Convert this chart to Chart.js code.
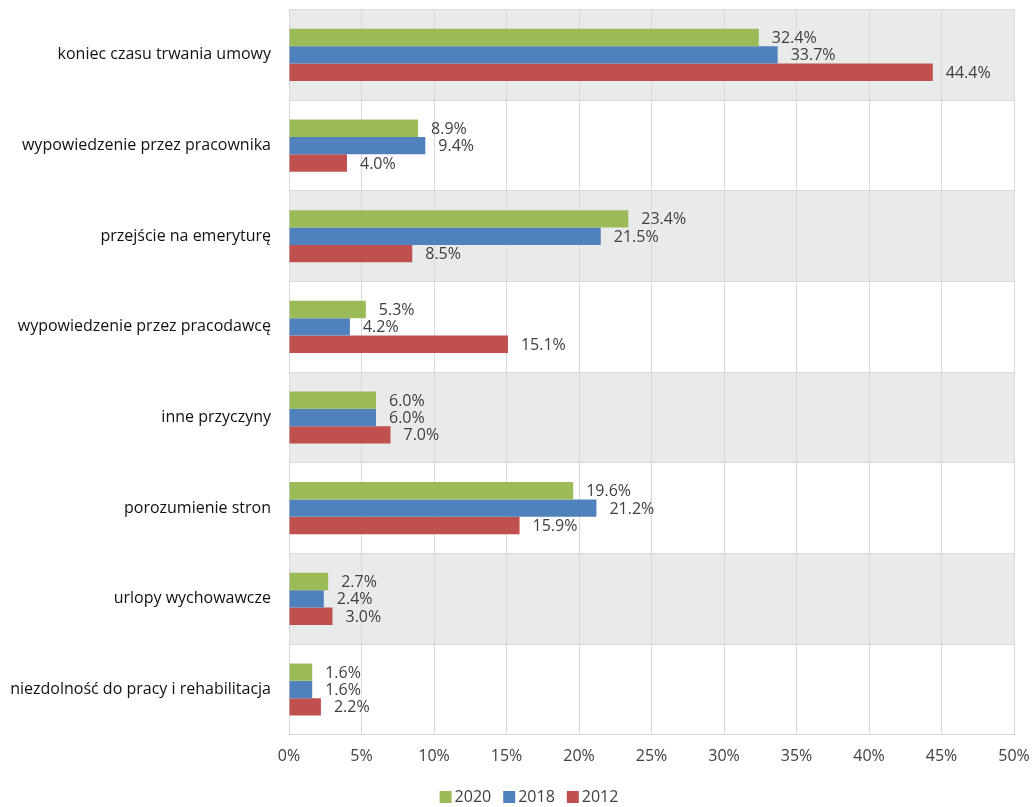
<!DOCTYPE html>
<html>
<head>
<meta charset="utf-8">
<script src="https://cdn.jsdelivr.net/npm/chart.js@4"></script>
<style>
  html, body { margin: 0; padding: 0; background: #fff; }
  #wrap { width: 1034px; height: 807px; }
</style>
</head>
<body>
<div id="wrap"><canvas id="reasonsChart"></canvas></div>
<script>
var categories = [
  "koniec czasu trwania umowy",
  "wypowiedzenie przez pracownika",
  "przejście na emeryturę",
  "wypowiedzenie przez pracodawcę",
  "inne przyczyny",
  "porozumienie stron",
  "urlopy wychowawcze",
  "niezdolność do pracy i rehabilitacja"
];

var values2020 = [32.4, 8.9, 23.4, 5.3, 6.0, 19.6, 2.7, 1.6];
var values2018 = [33.7, 9.4, 21.5, 4.2, 6.0, 21.2, 2.4, 1.6];
var values2012 = [44.4, 4.0, 8.5, 15.1, 7.0, 15.9, 3.0, 2.2];

var xTicks = [0, 5, 10, 15, 20, 25, 30, 35, 40, 45, 50];

var fontName = "'Open Sans', sans-serif";

// grey stripes behind every other category
var stripes = {
  id: 'stripes',
  beforeDraw: function (chart) {
    var ctx = chart.ctx;
    var area = chart.chartArea;
    var y = chart.scales.y;
    ctx.save();
    ctx.fillStyle = '#e9eaea';
    for (var i = 0; i < categories.length; i += 2) {
      var top = (y.getPixelForValue(i) + y.getPixelForValue(i - 1)) / 2;
      var bottom = (y.getPixelForValue(i) + y.getPixelForValue(i + 1)) / 2;
      ctx.fillRect(area.left, top, area.right - area.left, bottom - top);
    }
    ctx.restore();
  }
};

// value labels right of each bar
var valueLabels = {
  id: 'valueLabels',
  afterDatasetsDraw: function (chart) {
    var ctx = chart.ctx;
    ctx.save();
    ctx.font = "16px " + fontName;
    ctx.fillStyle = '#404040';
    ctx.textAlign = 'left';
    ctx.textBaseline = 'middle';
    chart.data.datasets.forEach(function (ds, di) {
      chart.getDatasetMeta(di).data.forEach(function (bar, i) {
        ctx.fillText(ds.data[i].toFixed(1) + '%', bar.x + 13, bar.y + 1);
      });
    });
    ctx.restore();
  }
};

// compact legend under the axis: small square, label right next to it
var bottomLegend = {
  id: 'bottomLegend',
  afterDraw: function (chart) {
    var ctx = chart.ctx;
    var sets = chart.data.datasets;
    var box = 12, gap = 3, space = 12;
    ctx.save();
    ctx.font = "16px " + fontName;
    ctx.textBaseline = 'middle';
    ctx.textAlign = 'left';
    var total = 0;
    sets.forEach(function (ds, i) {
      total += box + gap + ctx.measureText(ds.label).width + (i < sets.length - 1 ? space : 0);
    });
    var x = chart.width / 2 + 12 - total / 2;
    var y = chart.height - 10;
    sets.forEach(function (ds) {
      ctx.fillStyle = ds.backgroundColor;
      ctx.fillRect(x, y - box / 2, box, box);
      x += box + gap;
      ctx.fillStyle = '#404040';
      ctx.fillText(ds.label, x, y);
      x += ctx.measureText(ds.label).width + space;
    });
    ctx.restore();
  }
};

var chartData = {
  labels: categories,
  datasets: [
    { label: "2020", data: values2020, backgroundColor: '#9bbb59' },
    { label: "2018", data: values2018, backgroundColor: '#4f81bd' },
    { label: "2012", data: values2012, backgroundColor: '#c0504d' }
  ]
};

var chartOptions = {
  indexAxis: 'y',
  responsive: true,
  maintainAspectRatio: false,
  animation: false,
  layout: { padding: { top: 8, right: 20, bottom: 41, left: 0 } },
  datasets: {
    bar: { barPercentage: 1, categoryPercentage: 0.575 }
  },
  scales: {
    x: {
      min: 0,
      max: 50,
      afterBuildTicks: function (scale) {
        scale.ticks = xTicks.map(function (v) { return { value: v }; });
      },
      grid: { color: '#d9d9d9', tickLength: 12, tickColor: 'rgba(0,0,0,0)' },
      border: { display: false },
      ticks: {
        padding: 0,
        color: '#404040',
        font: { family: fontName, size: 16 },
        callback: function (v) { return v + '%'; }
      }
    },
    y: {
      grid: { color: '#d9d9d9', tickLength: 18, tickColor: 'rgba(0,0,0,0)' },
      border: { color: '#d9d9d9' },
      afterFit: function (scale) { scale.width = 289; },
      ticks: {
        padding: 0,
        color: '#111',
        font: { family: fontName, size: 16 }
      }
    }
  },
  plugins: {
    legend: { display: false },
    tooltip: { enabled: false }
  }
};

var chart = new Chart(document.getElementById("reasonsChart"), {
  type: 'bar',
  data: chartData,
  options: chartOptions,
  plugins: [stripes, valueLabels, bottomLegend]
});
</script>
</body>
</html>
